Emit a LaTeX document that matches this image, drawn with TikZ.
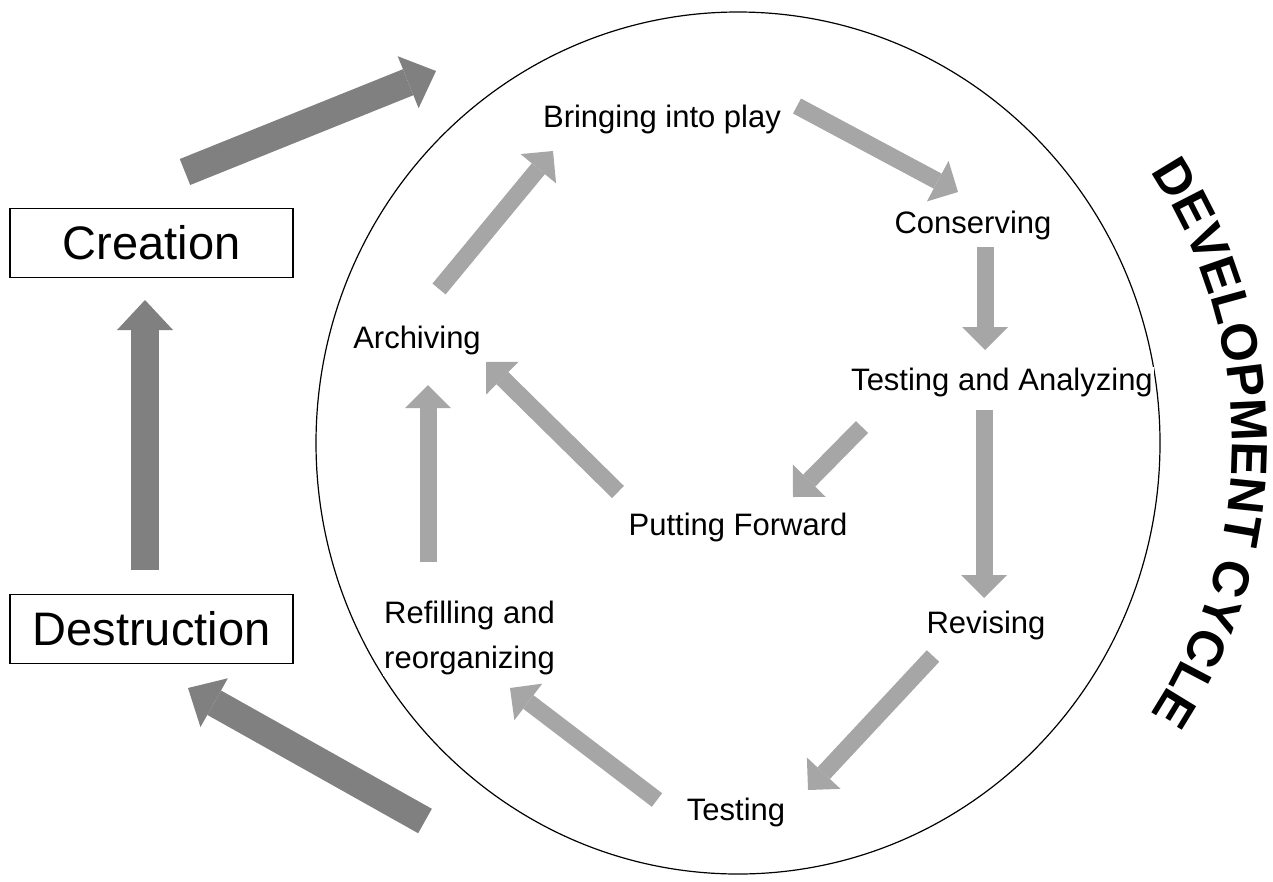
\documentclass[tikz,border=0pt]{standalone}
\usepackage{fontspec}
\setmainfont{Liberation Sans}
\usetikzlibrary{arrows.meta,decorations.text}
\definecolor{darkarr}{RGB}{128,128,128}
\definecolor{lightarr}{RGB}{166,166,166}
\begin{document}
\begin{tikzpicture}[x=1pt,y=-1pt,
  bigarr/.style={draw=darkarr, line width=28pt, -{Triangle[length=30pt,width=56pt,line width=0pt]}},
  smallarr/.style={draw=lightarr, line width=17pt, -{Triangle[length=23pt,width=46pt,line width=0pt]}},
  lbl/.style={font=\fontsize{31}{45}\selectfont, inner sep=1pt, fill=white},
  bigbox/.style={draw=black, line width=1.6pt, minimum width=283pt, minimum height=69pt, font=\fontsize{47}{50}\selectfont, inner sep=0pt}]
\useasboundingbox (0,0) rectangle (1273,881);
\coordinate (cc) at (738,443);
\draw[line width=1.2pt] (cc) ellipse[x radius=422, y radius=431];

% boxes
\node[bigbox] (creation) at (151.5,243) {Creation};
\node[bigbox] (destruction) at (151.5,629) {Destruction};

% labels
\node[lbl, anchor=base] (bring) at (662,127) {Bringing into play};
\node[lbl, anchor=base] (cons) at (973,233) {Conserving};
\node[lbl, anchor=base] (testan) at (1002,390) {Testing and Analyzing};
\node[lbl, anchor=base] (putf) at (738,535) {Putting Forward};
\node[lbl, anchor=base] (rev) at (986,633) {Revising};
\node[lbl, anchor=base] (testing) at (736,820) {Testing};
\node[lbl, anchor=base] (arch) at (417,348) {Archiving};
\node[lbl, anchor=north west, align=left] (refill) at (383,600) {Refilling and\\reorganizing};

% title along arc
\path[decorate, decoration={text along path, text align=center,
  text={|\fontsize{51}{51}\selectfont\bfseries|DEVELOPMENT CYCLE}}]
  ([shift={(-40:494)}]cc) arc[start angle=-40, end angle=40, radius=494];

% big arrow ends
\coordinate (b1s) at (185,172);  \coordinate (b1e) at (436,71);
\coordinate (b2s) at (145,570);  \coordinate (b2e) at (145,300);
\coordinate (b3s) at (425,821);  \coordinate (b3e) at (188,688);
\draw[bigarr] (b1s) -- (b1e);
\draw[bigarr] (b2s) -- (b2e);
\draw[bigarr] (b3s) -- (b3e);

% small arrow ends
\coordinate (s1s) at (797,106);  \coordinate (s1e) at (958,192);
\coordinate (s2s) at (985,247);  \coordinate (s2e) at (985,350);
\coordinate (s3s) at (984,410);  \coordinate (s3e) at (984,598);
\coordinate (s4s) at (862,427);  \coordinate (s4e) at (793,497);
\coordinate (s5s) at (933,656);  \coordinate (s5e) at (808,790);
\coordinate (s6s) at (657,800);  \coordinate (s6e) at (510,688);
\coordinate (s7s) at (428,562);  \coordinate (s7e) at (428,385);
\coordinate (s8s) at (618,492);  \coordinate (s8e) at (486,362);
\coordinate (s9s) at (439,289);  \coordinate (s9e) at (553,151);
\foreach \i in {1,...,9} {\draw[smallarr] (s\i s) -- (s\i e);}
\end{tikzpicture}
\end{document}
